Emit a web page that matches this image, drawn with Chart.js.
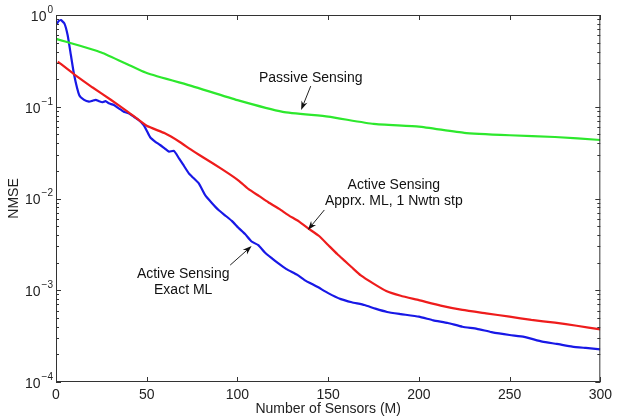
<!DOCTYPE html>
<html>
<head>
<meta charset="utf-8">
<script src="https://cdn.jsdelivr.net/npm/chart.js@4/dist/chart.umd.min.js"></script>
<style>
  html, body { margin: 0; padding: 0; background: #fff; }
  #wrap { position: relative; width: 617px; height: 420px; }
</style>
</head>
<body>
<div id="wrap"><canvas id="nmse"></canvas></div>
<script>
// NMSE vs number of sensors, three estimators
const xTicks = [0, 50, 100, 150, 200, 250, 300];
const yDecades = [1e-4, 1e-3, 1e-2, 1e-1, 1];

const passiveM = [0, 25, 50, 75, 100, 125, 150, 175, 200, 225, 250, 275, 300];
const passiveNmse = [0.55, 0.39, 0.233, 0.168, 0.118, 0.088, 0.078, 0.065, 0.0607, 0.052, 0.0489, 0.0468, 0.0434];

const approxM = [1, 10, 20, 30, 40, 50, 60, 68, 74, 79, 87, 95, 101, 106, 112, 117, 123, 128, 134, 139, 145, 150, 155,
  159, 163, 168, 175, 182, 190, 200, 212, 224, 237, 250, 262, 275, 287, 300];
const approxNmse = [0.31, 0.226, 0.163, 0.12, 0.087, 0.062, 0.0513, 0.0416, 0.0345, 0.0298, 0.0238, 0.0188, 0.0155, 0.0127,
  0.0106, 0.0091, 0.0077, 0.0066, 0.0056, 0.00473, 0.0039, 0.00311, 0.00248,
  0.0021, 0.00178, 0.00145, 0.00118, 0.00098, 0.00087, 0.00078, 0.00068, 0.00061, 0.00056, 0.000515, 0.000475, 0.000443, 0.00041, 0.000375];

const exactM = [0.5, 1.5, 2.7, 4.6, 6.4, 8.2, 10, 12.8, 15.5, 18.2, 20, 21.9, 23.7, 25.5, 27.3, 29.1, 31.9, 34.6, 37.3, 40,
  42.8, 45.5, 48.3, 50.1, 51.9, 54.6, 57.4, 60, 62.3, 65, 67.8, 70, 73.2, 75, 78.7, 82.3, 86, 89.6, 93, 96.9,
  100.5, 104.2, 107.8, 111.5, 115, 118.7, 122.4, 127, 133, 137, 144, 150, 157, 163, 170, 176, 182.5, 190, 200,
  208, 216, 224, 232, 240, 250, 258, 268, 276, 284.5, 292, 300];
const exactNmse = [0.8, 0.86, 0.88, 0.81, 0.605, 0.366, 0.222, 0.134, 0.119, 0.1136, 0.116, 0.119, 0.115, 0.112, 0.115, 0.109,
  0.1045, 0.096, 0.0884, 0.0848, 0.078, 0.0717, 0.0633, 0.0545, 0.0465, 0.0418, 0.0383, 0.035, 0.0324, 0.033, 0.0274,
  0.0235, 0.0188, 0.0173, 0.0146, 0.0108, 0.0089, 0.0075, 0.0066, 0.0057, 0.0048, 0.0041, 0.0034, 0.0031, 0.0026,
  0.00225, 0.00197, 0.0017, 0.00147, 0.00129, 0.00109, 0.00093, 0.0008, 0.00074, 0.00069, 0.00063, 0.00058, 0.00055,
  0.000515, 0.00047, 0.00044, 0.0004, 0.00038, 0.00035, 0.000325, 0.00031, 0.000275, 0.00026, 0.000243, 0.000235, 0.000227];

// callouts, in data units: text anchor, arrow tail, arrow tip
const notes = [
  { lines: ['Passive Sensing'], at: [140.4, 0.207], from: [140.4, 0.168], to: [135.1, 0.0922] },
  { lines: ['Active Sensing', 'Apprx. ML, 1 Nwtn stp'], at: [186.2, 0.01403], from: [147.9, 0.0075], to: [138.8, 0.00454] },
  { lines: ['Active Sensing', 'Exact ML'], at: [70.1, 0.0015], from: [96, 0.00188], to: [107.8, 0.00303] },
];

const FONT = '"Liberation Sans", Arial, Helvetica, sans-serif';
const pts = (xs, ys) => xs.map((x, i) => ({ x, y: ys[i] }));

function arrow(ctx, x0, y0, x1, y1) {
  const a = Math.atan2(y1 - y0, x1 - x0);
  const len = 9, hw = 3.2;
  ctx.beginPath(); ctx.moveTo(x0, y0); ctx.lineTo(x1 - Math.cos(a) * 4, y1 - Math.sin(a) * 4); ctx.stroke();
  ctx.beginPath();
  ctx.moveTo(x1, y1);
  ctx.lineTo(x1 - Math.cos(a) * len - Math.sin(a) * hw, y1 - Math.sin(a) * len + Math.cos(a) * hw);
  ctx.lineTo(x1 - Math.cos(a) * len * 0.7, y1 - Math.sin(a) * len * 0.7);
  ctx.lineTo(x1 - Math.cos(a) * len + Math.sin(a) * hw, y1 - Math.sin(a) * len - Math.cos(a) * hw);
  ctx.closePath(); ctx.fill();
}

const frame = {
  id: 'frame',
  afterDraw(chart) {
    const { ctx, chartArea: a } = chart;
    const xs = chart.scales.x, ys = chart.scales.y;
    ctx.save();
    ctx.strokeStyle = '#333'; ctx.lineWidth = 1;
    ctx.strokeRect(a.left + 0.5, a.top + 0.5, a.right - a.left - 1, a.bottom - a.top - 1);

    // inward tick marks
    ctx.beginPath();
    xTicks.forEach(v => {
      const px = Math.round(xs.getPixelForValue(v)) + 0.5;
      ctx.moveTo(px, a.bottom); ctx.lineTo(px, a.bottom - 5);
      ctx.moveTo(px, a.top); ctx.lineTo(px, a.top + 5);
    });
    yDecades.forEach((d, i) => {
      const py = Math.round(ys.getPixelForValue(d)) + 0.5;
      ctx.moveTo(a.left, py); ctx.lineTo(a.left + 5, py);
      ctx.moveTo(a.right, py); ctx.lineTo(a.right - 5, py);
      if (i < yDecades.length - 1) {
        for (let k = 2; k <= 9; k++) {
          const my = Math.round(ys.getPixelForValue(d * k)) + 0.5;
          ctx.moveTo(a.left, my); ctx.lineTo(a.left + 3, my);
          ctx.moveTo(a.right, my); ctx.lineTo(a.right - 3, my);
        }
      }
    });
    ctx.stroke();

    // y tick labels as 10^k
    ctx.fillStyle = '#222';
    yDecades.forEach(d => {
      const py = ys.getPixelForValue(d);
      const e = String(Math.round(Math.log10(d))).replace('-', '\u2212');
      ctx.font = '10px ' + FONT;
      ctx.textAlign = 'right'; ctx.textBaseline = 'middle';
      const ew = ctx.measureText(e).width;
      ctx.fillText(e, a.left - 3, py - 5);
      ctx.font = '14px ' + FONT;
      ctx.fillText('10', a.left - 4 - ew, py + 2);
    });

    // axis titles
    ctx.font = '14px ' + FONT;
    ctx.textAlign = 'center'; ctx.textBaseline = 'middle';
    ctx.fillText('Number of Sensors (M)', (a.left + a.right) / 2, 409);
    ctx.save();
    ctx.translate(14, (a.top + a.bottom) / 2);
    ctx.rotate(-Math.PI / 2);
    ctx.fillText('NMSE', 0, 0);
    ctx.restore();

    // callouts
    ctx.font = '14px ' + FONT;
    ctx.fillStyle = '#111'; ctx.strokeStyle = '#222'; ctx.lineWidth = 1;
    notes.forEach(n => {
      const tx = xs.getPixelForValue(n.at[0]), ty = ys.getPixelForValue(n.at[1]);
      n.lines.forEach((s, i) => ctx.fillText(s, tx, ty + i * 16.5));
      arrow(ctx, xs.getPixelForValue(n.from[0]), ys.getPixelForValue(n.from[1]),
        xs.getPixelForValue(n.to[0]), ys.getPixelForValue(n.to[1]));
    });
    ctx.restore();
  }
};

new Chart(document.getElementById('nmse'), {
  type: 'line',
  data: {
    datasets: [
      { label: 'Passive Sensing', data: pts(passiveM, passiveNmse), borderColor: '#2de82d' },
      { label: 'Active Sensing, Apprx. ML, 1 Nwtn stp', data: pts(approxM, approxNmse), borderColor: '#ee1c1c' },
      { label: 'Active Sensing, Exact ML', data: pts(exactM, exactNmse), borderColor: '#1818e6' },
    ].map(d => Object.assign(d, { borderWidth: 2.2, pointRadius: 0, tension: 0.15, fill: false })),
  },
  options: {
    responsive: true,
    maintainAspectRatio: false,
    animation: false,
    layout: { padding: { top: 15, right: 11, left: 0, bottom: 0 } },
    plugins: { legend: { display: false }, tooltip: { enabled: false } },
    scales: {
      x: {
        type: 'linear', min: 0, max: 300,
        afterBuildTicks: s => { s.ticks = xTicks.map(v => ({ value: v })); },
        afterFit: s => { s.height = 38; },
        grid: { display: false, drawTicks: false },
        border: { display: false },
        ticks: { padding: 5, color: '#222', font: { family: FONT, size: 14 }, maxRotation: 0 },
      },
      y: {
        type: 'logarithmic', min: 1e-4, max: 1,
        afterBuildTicks: s => { s.ticks = yDecades.map(v => ({ value: v })); },
        afterFit: s => { s.width = 56; },
        grid: { display: false, drawTicks: false },
        border: { display: false },
        ticks: { display: false },
      },
    },
  },
  plugins: [frame],
});
</script>
</body>
</html>
